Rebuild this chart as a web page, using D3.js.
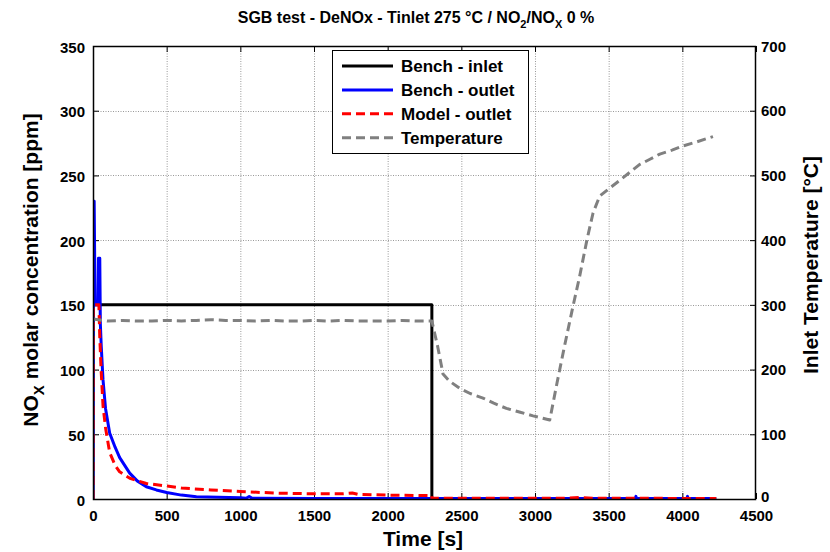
<!DOCTYPE html>
<html>
<head>
<meta charset="utf-8">
<script src="https://cdn.jsdelivr.net/npm/d3@7"></script>
<style>
  html, body { margin: 0; padding: 0; background: #fff; }
  svg { display: block; font-family: "Liberation Sans", Arial, sans-serif; font-weight: bold; }
</style>
</head>
<body>
<svg id="chart" width="830" height="552"></svg>
<script>
// ---- data ----
const xTicks = [0, 500, 1000, 1500, 2000, 2500, 3000, 3500, 4000, 4500];
const yLeftTicks = [0, 50, 100, 150, 200, 250, 300, 350];
const yRightTicks = [0, 100, 200, 300, 400, 500, 600, 700];

const inletT = [0, 0, 2300, 2300, 4230];
const inletV = [0, 150, 150, 0, 0];

const outletT = [0, 3, 8, 14, 18, 34, 37, 46, 50, 56, 68, 85, 113, 150, 181, 249, 300, 362, 430, 500, 600, 702, 850, 1000, 1040, 1060, 1080, 1500, 2300, 3680, 3685, 3690, 4030, 4035, 4040, 4230];
const outletV = [0, 230, 230, 150, 150, 150, 186, 186, 135, 118, 92, 70, 51, 40, 32, 20, 14, 9.5, 7, 5, 3, 1.8, 1.3, 1, 0.6, 2, 0.5, 0.4, 0.3, 0.3, 2, 0.3, 0.3, 2, 0.3, 0.3];

const modelT = [0, 2, 40, 46, 55, 68, 85, 113, 150, 181, 250, 362, 500, 600, 800, 1000, 1250, 1500, 1700, 1760, 1800, 2000, 2300, 2300, 3200, 3300, 3400, 4230];
const modelV = [0, 150, 150, 125, 100, 72, 55, 36, 26, 21, 16, 12, 10, 8.5, 7, 5.8, 4.5, 4, 4, 4.6, 3.5, 3, 2.6, 0.5, 0.5, 1.2, 0.6, 0.4];

const tempT = [0, 100, 200, 300, 400, 500, 600, 700, 800, 900, 1000, 1100, 1200, 1300, 1400, 1500, 1600, 1700, 1800, 1900, 2000, 2100, 2200, 2300, 2340, 2376, 2420, 2489, 2560, 2647, 2720, 2806, 2900, 2987, 3050, 3100, 3150, 3200, 3258, 3303, 3353, 3394, 3439, 3496, 3550, 3598, 3650, 3711, 3780, 3847, 3930, 4005, 4100, 4208];
const tempV = [278, 275, 276, 275, 275, 276, 275, 276, 277, 276, 276, 275, 276, 275, 275, 276, 275, 276, 275, 275, 275, 276, 275, 275, 235, 193, 182, 171, 163, 156, 148, 140, 134, 128.5, 125, 122, 180, 236, 298, 344, 401, 442, 468, 478.5, 488, 496.6, 506, 517, 525, 533, 539, 545.6, 552, 560];

const legendLabels = ["Bench - inlet", "Bench - outlet", "Model - outlet", "Temperature"];

// ---- layout ----
const L = 93, R = 756, T = 46, B = 499;
const svg = d3.select("#chart");

const x = d3.scaleLinear().domain([0, 4500]).range([L, R]);
const yL = d3.scaleLinear().domain([0, 350]).range([B, T]);
const yR = d3.scaleLinear().domain([0, 700]).range([B, T]);
const fmt = d3.format("d");

// grid
const grid = svg.append("g").attr("stroke", "#999").attr("stroke-width", 1).attr("stroke-dasharray", "1,1.5");
grid.selectAll("line.gx").data(xTicks.slice(1, -1)).enter().append("line")
  .attr("x1", d => x(d) + 0.5).attr("x2", d => x(d) + 0.5).attr("y1", T).attr("y2", B);
grid.selectAll("line.gy").data(yLeftTicks.slice(1, -1)).enter().append("line")
  .attr("y1", d => Math.round(yL(d)) + 0.5).attr("y2", d => Math.round(yL(d)) + 0.5).attr("x1", L).attr("x2", R);

// axes
const tickFont = 15;
const axB = svg.append("g").attr("transform", `translate(0,${B})`)
  .call(d3.axisBottom(x).tickValues(xTicks).tickFormat(fmt).tickSizeInner(-6).tickSizeOuter(0).tickPadding(11));
const axT = svg.append("g").attr("transform", `translate(0,${T})`)
  .call(d3.axisTop(x).tickValues(xTicks).tickSizeInner(-6).tickSizeOuter(0).tickFormat(""));
const axL = svg.append("g").attr("transform", `translate(${L},0)`)
  .call(d3.axisLeft(yL).tickValues(yLeftTicks).tickFormat(fmt).tickSizeInner(-6).tickSizeOuter(0).tickPadding(8));
const axR = svg.append("g").attr("transform", `translate(${R},0)`)
  .call(d3.axisRight(yR).tickValues(yRightTicks).tickFormat(fmt).tickSizeInner(-6).tickSizeOuter(0).tickPadding(5));
[axB, axT, axL, axR].forEach(a => {
  a.select(".domain").remove();
  a.selectAll("text").attr("font-size", tickFont).attr("font-weight", "bold")
    .attr("font-family", "Liberation Sans, Arial, sans-serif").attr("fill", "#000");
  a.selectAll("line").attr("stroke", "#000");
});
axL.selectAll(".tick text").attr("dy", "0.4em");
axR.selectAll(".tick text").attr("dy", d => d === 0 ? "0.15em" : "0.35em");

// clip
svg.append("clipPath").attr("id", "clip").append("rect")
  .attr("x", L).attr("y", T).attr("width", R - L).attr("height", B - T);
const plot = svg.append("g").attr("clip-path", "url(#clip)");

function draw(ts, vs, yScale, color, dash) {
  const pts = ts.map((t, i) => [t, vs[i]]);
  const line = d3.line().x(d => x(d[0])).y(d => yScale(d[1]));
  plot.append("path").attr("d", line(pts)).attr("fill", "none")
    .attr("stroke", color).attr("stroke-width", 3)
    .attr("stroke-linejoin", "round")
    .attr("stroke-dasharray", dash || null);
}
draw(inletT, inletV, yL, "#000");
draw(outletT, outletV, yL, "#0000ff");
draw(modelT, modelV, yL, "#ff0000", "9,5");
draw(tempT, tempV, yR, "#808080", "9,5");

// frame
svg.append("rect").attr("x", L + 0.5).attr("y", T + 0.5).attr("width", R - L - 1).attr("height", B - T)
  .attr("fill", "none").attr("stroke", "#000").attr("stroke-width", 1.5);

// legend
const lg = svg.append("g");
lg.append("rect").attr("x", 332.5).attr("y", 50.5).attr("width", 196).attr("height", 103)
  .attr("fill", "#fff").attr("stroke", "#000").attr("stroke-width", 1);
const lgColors = ["#000", "#0000ff", "#ff0000", "#808080"];
const lgDash = [null, null, "9,5", "9,5"];
legendLabels.forEach((lab, i) => {
  const yy = 66 + i * 23.9;
  lg.append("line").attr("x1", 342).attr("x2", 393).attr("y1", yy).attr("y2", yy)
    .attr("stroke", lgColors[i]).attr("stroke-width", 3).attr("stroke-dasharray", lgDash[i]);
  lg.append("text").attr("x", 401).attr("y", yy + 6).attr("font-size", 17).text(lab);
});

// title
const title = svg.append("text").attr("x", 416).attr("y", 23).attr("text-anchor", "middle").attr("font-size", 16);
title.append("tspan").text("SGB test - DeNOx - Tinlet 275 °C / NO");
title.append("tspan").attr("font-size", 11).attr("dy", 5).text("2");
title.append("tspan").attr("dy", -5).text("/NO");
title.append("tspan").attr("font-size", 11).attr("dy", 5).text("X");
title.append("tspan").attr("dy", -5).text(" 0 %");

// x label
svg.append("text").attr("x", 423).attr("y", 546).attr("text-anchor", "middle").attr("font-size", 21).text("Time [s]");

// left y label
const yl = svg.append("text").attr("transform", "translate(38,270) rotate(-90)")
  .attr("text-anchor", "middle").attr("font-size", 21);
yl.append("tspan").text("NO");
yl.append("tspan").attr("font-size", 15).attr("dy", 6).text("X");
yl.append("tspan").attr("dy", -6).text(" molar concentration [ppm]");

// right y label
svg.append("text").attr("transform", "translate(818,265) rotate(-90)")
  .attr("text-anchor", "middle").attr("font-size", 21).text("Inlet Temperature [°C]");
</script>
</body>
</html>
